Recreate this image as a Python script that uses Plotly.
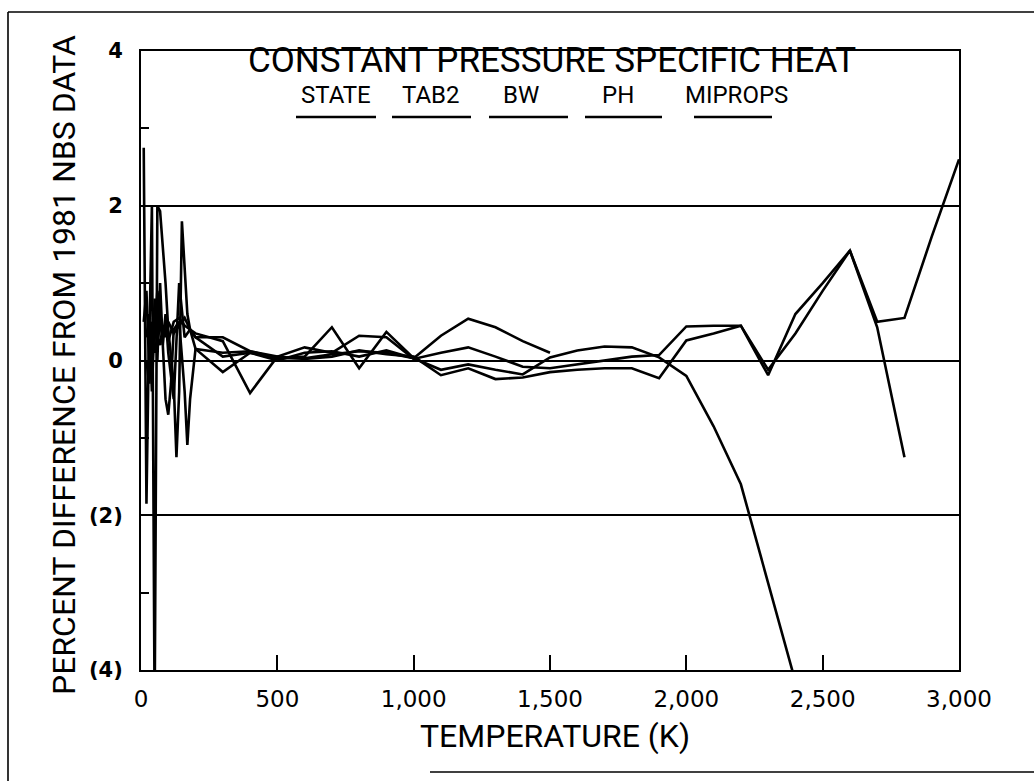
import plotly.graph_objects as go

# ---------------------------------------------------------------------------
# Percent difference in constant-pressure specific heat vs. 1981 NBS data
# ---------------------------------------------------------------------------
SERIES_NAMES = ["STATE", "TAB2", "BW", "PH", "MIPROPS"]

STATE_T = [10, 20, 30, 40, 50, 60, 70, 80, 90, 100, 120, 140, 160, 180, 200,
           300, 400, 500, 600, 700, 800, 900, 1000, 1100, 1200, 1300, 1400,
           1500, 1600, 1700, 1800, 1900, 2000, 2100, 2200, 2400]
STATE_V = [2.75, -1.85, 0.5, -0.4, 0.6, 0.2, 0.5, 0.3, 0.4, 0.25, 0.5, 0.55,
           0.45, 0.4, 0.15, -0.15, 0.1, 0.03, 0.03, 0.08, 0.12, 0.1, 0.03,
           -0.12, -0.05, -0.12, -0.18, 0.04, 0.13, 0.18, 0.17, 0.04, -0.2,
           -0.85, -1.6, -4.15]

TAB2_T = [20, 30, 40, 50, 60, 70, 80, 90, 100, 120, 140, 160, 180, 200, 300,
          400, 500, 600, 700, 800, 900, 1000, 1100, 1200, 1300, 1400, 1500,
          1600, 1700, 1800, 1900, 2000, 2100, 2200, 2300, 2400, 2500, 2600,
          2700, 2800, 2900, 3000]
TAB2_V = [0.3, 0.6, -0.3, 0.8, 0.0, 1.0, 0.2, 0.6, 0.1, -0.5, 1.0, 0.3, 0.4,
          0.3, 0.3, 0.12, 0.05, 0.17, 0.1, 0.32, 0.3, 0.02, 0.1, 0.17, 0.05,
          -0.08, -0.1, -0.05, 0.0, 0.05, 0.07, 0.44, 0.45, 0.45, -0.19, 0.6,
          1.0, 1.42, 0.5, 0.55, 1.6, 2.6]

BW_T = [30, 40, 50, 60, 70, 80, 90, 100, 120, 130, 140, 150, 160, 170, 180,
        200, 300, 400, 500, 600, 700, 800, 900, 1000, 1100, 1200, 1300, 1400,
        1500, 1600, 1700, 1800, 1900, 2000, 2100, 2200, 2300, 2400, 2500, 2600,
        2700, 2800]
BW_V = [0.2, 2.0, -4.6, 2.0, 1.93, 1.5, 1.0, 0.4, -0.3, -1.25, -0.4, 1.8, 1.2,
        0.6, 0.4, 0.35, 0.25, -0.42, 0.05, 0.02, 0.05, 0.13, 0.08, 0.05, -0.19,
        -0.1, -0.24, -0.22, -0.15, -0.12, -0.1, -0.1, -0.23, 0.26, 0.35, 0.45,
        -0.12, 0.35, 0.9, 1.42, 0.43, -1.25]

PH_T = [20, 30, 40, 50, 60, 70, 80, 90, 100, 110, 120, 140, 160, 170, 180,
        200, 300, 400, 500, 600, 700, 800, 900, 1000, 1100, 1200, 1300, 1400,
        1500]
PH_V = [0.0, -0.3, 0.5, 0.3, 0.9, 0.6, 0.2, -0.5, -0.7, -0.3, 0.4, 0.5, -0.4,
        -1.09, -0.5, 0.15, 0.1, 0.12, 0.03, 0.05, 0.43, -0.1, 0.37, 0.03, 0.32,
        0.54, 0.43, 0.25, 0.1]

MIPROPS_T = [10, 20, 30, 40, 50, 60, 70, 80, 90, 100, 120, 140, 160, 180, 200,
             300, 400, 500, 600, 700, 800, 900, 1000]
MIPROPS_V = [0.5, 0.9, -0.1, 0.4, 0.1, 0.3, 0.2, 0.45, 0.3, 0.5, 0.35, 0.45,
             0.55, 0.4, 0.3, 0.05, 0.1, 0.0, 0.1, 0.12, 0.05, 0.13, 0.03]

X_TICKS = [0, 500, 1000, 1500, 2000, 2500, 3000]
X_TICK_LABELS = ["0", "500", "1,000", "1,500", "2,000", "2,500", "3,000"]
Y_TICKS = [-4, -2, 0, 2, 4]
Y_TICK_LABELS = ["(4)", "(2)", "0", "2", "4"]
Y_MINOR_TICKS = [-3, -1, 1, 3]

series = [
    (STATE_T, STATE_V),
    (TAB2_T, TAB2_V),
    (BW_T, BW_V),
    (PH_T, PH_V),
    (MIPROPS_T, MIPROPS_V),
]

# page geometry (pixels) and the plotting box inside it
W, H = 1034, 781
L, R, T, B = 141, 959, 51, 670


def px(x):
    return (x - L) / (R - L)


def py(y):
    return (B - y) / (B - T)


NARROW = "Roboto, Liberation Sans, sans-serif"
ROUND = "DejaVu Sans, Verdana, sans-serif"

fig = go.Figure()
for name, (tx, vy) in zip(SERIES_NAMES, series):
    fig.add_trace(go.Scatter(
        x=tx, y=vy, mode="lines", name=name,
        line=dict(color="black", width=2.6),
        showlegend=False,
    ))

shapes = []
annotations = []

# legend: label over a short sample line
legend_label_x = [336, 431, 521, 618, 736]
legend_line_x = [(296, 376), (392, 471), (489, 568), (585, 662), (694, 772)]
for name, cx, (x0, x1) in zip(SERIES_NAMES, legend_label_x, legend_line_x):
    annotations.append(dict(
        x=px(cx), y=py(95), xref="paper", yref="paper", text=name,
        showarrow=False, xanchor="center", yanchor="middle",
        font=dict(family=NARROW, size=24, color="black"),
    ))
    shapes.append(dict(
        type="line", xref="paper", yref="paper",
        x0=px(x0), x1=px(x1), y0=py(117), y1=py(117),
        line=dict(color="black", width=2.6),
    ))

# title inside the plotting box
annotations.append(dict(
    x=px(552), y=py(61), xref="paper", yref="paper",
    text="CONSTANT PRESSURE SPECIFIC HEAT", showarrow=False,
    xanchor="center", yanchor="middle",
    font=dict(family=NARROW, size=35, color="black"),
))

# axis titles
annotations.append(dict(
    x=px(555), y=py(736), xref="paper", yref="paper",
    text="TEMPERATURE (K)", showarrow=False,
    xanchor="center", yanchor="middle",
    font=dict(family=NARROW, size=32, color="black"),
))
annotations.append(dict(
    x=px(64), y=py(365), xref="paper", yref="paper",
    text="PERCENT DIFFERENCE FROM 1981 NBS DATA", showarrow=False,
    textangle=-90, xanchor="center", yanchor="middle",
    font=dict(family=NARROW, size=32, color="black"),
))

# page frame
frame = dict(color="black", width=1.6)
shapes.append(dict(type="line", xref="paper", yref="paper",
                   x0=px(8), x1=px(8), y0=py(12), y1=py(781), line=frame))
shapes.append(dict(type="line", xref="paper", yref="paper",
                   x0=px(8), x1=px(1034), y0=py(12), y1=py(12), line=frame))
shapes.append(dict(type="line", xref="paper", yref="paper",
                   x0=px(430), x1=px(1034), y0=py(772), y1=py(772), line=frame))

fig.update_layout(
    width=W, height=H,
    margin=dict(l=L, r=W - R, t=T, b=H - B, pad=0),
    paper_bgcolor="white", plot_bgcolor="white",
    shapes=shapes, annotations=annotations,
    showlegend=False,
)

fig.update_xaxes(
    range=[0, 3000], tickmode="array", tickvals=X_TICKS, ticktext=X_TICK_LABELS,
    ticks="inside", ticklen=15, tickwidth=2, tickcolor="black",
    showline=True, mirror=True, linecolor="black", linewidth=2,
    showgrid=False, zeroline=False,
    tickfont=dict(family=ROUND, size=23, color="black"),
    ticklabelstandoff=7,
)
fig.update_yaxes(
    range=[-4, 4], tickmode="array", tickvals=Y_TICKS, ticktext=Y_TICK_LABELS,
    ticks="", showline=True, mirror=True, linecolor="black", linewidth=2,
    showgrid=True, gridcolor="black", gridwidth=1.6, zeroline=False,
    tickfont=dict(family=ROUND, size=21, color="black", weight="bold"),
    ticklabelstandoff=12,
    minor=dict(tickmode="array", tickvals=Y_MINOR_TICKS, ticks="inside",
               ticklen=8, tickwidth=2, tickcolor="black", showgrid=False),
)

fig.write_html("out.html")
